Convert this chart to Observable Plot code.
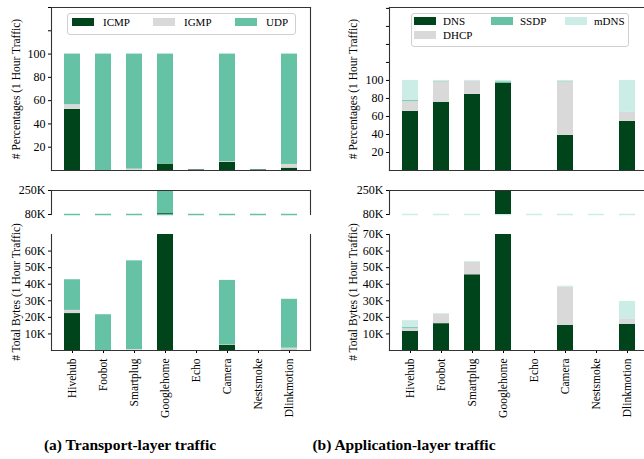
<!DOCTYPE html>
<html>
<head>
<meta charset="utf-8">
<script src="https://cdn.jsdelivr.net/npm/d3@7"></script>
<script src="https://cdn.jsdelivr.net/npm/@observablehq/plot@0.6"></script>
<style>
  body { margin: 0; background: #fff; }
  #fig { position: relative; width: 644px; height: 459px; overflow: hidden;
         font-family: "Liberation Serif", "Times New Roman", serif; color: #000; }
  #fig > svg, .sub { position: absolute; }
  .ytitle { position: absolute; font-size: 11.5px; white-space: nowrap;
            transform: translate(-50%, -50%) rotate(-90deg); }
  .legend { position: absolute; border: 1px solid #d0d0d0; border-radius: 3px; background: #fff; }
  .sw { position: absolute; width: 22px; height: 8px; }
  .lt { position: absolute; font-size: 11px; line-height: 12px; }
  .caption { position: absolute; font-weight: bold; font-size: 15.5px; white-space: nowrap;
             transform: translate(-50%, -50%); }
</style>
</head>
<body>
<div id="fig"></div>
<script>
const devices = ["Hivehub", "Foobot", "Smartplug", "Googlehome", "Echo", "Camera", "Nestsmoke", "Dlinkmotion"];

// (a) transport-layer protocols, stacked bottom to top
const transportProtocols = ["ICMP", "IGMP", "UDP"];
const transportColors = ["#00441b", "#d9d9d9", "#66c2a5"];
const transportPctICMP = [52.5, 0, 0, 5.5, 0.5, 7.1, 0.5, 2.0];
const transportPctIGMP = [4.1, 0, 1.2, 0, 0, 0.6, 0, 3.2];
const transportPctUDP  = [43.4, 100, 98.8, 94.5, 0, 92.3, 0, 94.8];
const transportBytesICMP = [22300, 0, 0, 86000, 0, 3200, 0, 200];
const transportBytesIGMP = [1900, 0, 600, 0, 0, 300, 0, 1200];
const transportBytesUDP  = [18500, 21600, 53500, 1470000, 0, 38800, 0, 29500];

// (b) application-layer protocols, stacked bottom to top
const appProtocols = ["DNS", "DHCP", "SSDP", "mDNS"];
const appColors = ["#00441b", "#d9d9d9", "#66c2a5", "#ccece6"];
const appPctDNS  = [65.6, 75.5, 84.5, 97.0, 0, 39.0, 0, 54.5];
const appPctDHCP = [11.0, 23.0, 14.5, 0, 0, 59.5, 0, 10.0];
const appPctSSDP = [1.0, 0.5, 0, 1.5, 0, 0.3, 0, 0];
const appPctMDNS = [22.4, 1.0, 1.0, 1.5, 0, 1.2, 0, 35.5];
const appBytesDNS  = [11600, 16200, 45700, 300000, 0, 15200, 0, 15800];
const appBytesDHCP = [1600, 5600, 7400, 0, 0, 22900, 0, 3000];
const appBytesSSDP = [600, 100, 0, 4600, 0, 100, 0, 0];
const appBytesMDNS = [4200, 300, 500, 4600, 0, 600, 0, 10800];

// axis ticks
const transportPctTicks = [20, 40, 60, 80, 100, 120, 140];
const appPctTicks = [20, 40, 60, 80, 100, 120, 140, 160, 180];
const pctLabelled = [20, 40, 60, 80, 100];
const breakTicks = [80000, 250000];
const transportByteTicks = [10000, 20000, 30000, 40000, 50000, 60000];
const appByteTicks = [10000, 20000, 30000, 40000, 50000, 60000, 70000];

function longTable(protocols, columns) {
  const rows = [];
  protocols.forEach((p, i) => devices.forEach((d, j) => rows.push({device: d, protocol: p, value: columns[i][j]})));
  return rows;
}

const fig = document.getElementById("fig");
const FONT = '"Liberation Serif", "Times New Roman", serif';
const kfmt = v => `${v / 1000}K`;

function sub({rows, protocols, colors, domain, ticks, tickFormat, left, top, marginTop, inner, marginBottom, spines, xAxis = false, breakMark = false}) {
  const svg = Plot.plot({
    width: 320, height: marginTop + inner + marginBottom,
    marginLeft: 51, marginRight: 10, marginTop, marginBottom,
    style: {fontFamily: FONT, fontSize: "12px", color: "#000", background: "transparent", overflow: "visible"},
    x: {domain: devices, paddingInner: 0.487, paddingOuter: 0.385, axis: null},
    y: {domain, axis: null},
    color: {domain: protocols, range: colors},
    marks: [
      breakMark ? Plot.tickY(devices, {x: d => d, y: () => domain[0], stroke: colors[colors.length - 1], strokeWidth: 1.5}) : null,
      Plot.barY(rows, {x: "device", y: "value", fill: "protocol", order: protocols, clip: true}),
      Plot.axisY({ticks, tickFormat, tickSize: 3, tickPadding: 3, label: null, fontSize: 12}),
      xAxis ? Plot.axisX({tickRotate: -90, tickSize: 3, tickPadding: 5, label: null, fontSize: 11.5}) : null,
      ...spines.map(side => Plot.frame({anchor: side, stroke: "#333", strokeWidth: 1.1}))
    ]
  });
  svg.style.left = left + "px";
  svg.style.top = top + "px";
  fig.appendChild(svg);
}

function panel({left, protocols, colors, pct, bytes, pctDomain, pctTicks, byteTicks}) {
  const pctRows = longTable(protocols, pct);
  const byteRows = longTable(protocols, bytes);
  // percentage share
  sub({rows: pctRows, protocols, colors, domain: pctDomain, ticks: pctTicks,
       tickFormat: v => pctLabelled.includes(v) ? String(v) : "",
       left, top: 0, marginTop: 7, inner: 163, marginBottom: 2, spines: ["top", "left", "right", "bottom"]});
  // upper part of the broken byte axis
  sub({rows: byteRows, protocols, colors, domain: [80000, 250000], ticks: breakTicks, tickFormat: kfmt,
       left, top: 185, marginTop: 5, inner: 24, marginBottom: 4, spines: ["top", "left", "right"], breakMark: true});
  // lower part of the byte axis
  sub({rows: byteRows, protocols, colors, domain: [0, 70000], ticks: byteTicks, tickFormat: kfmt,
       left, top: 228, marginTop: 6, inner: 116, marginBottom: 110, spines: ["left", "right", "bottom"], xAxis: true});
}

panel({left: 0, protocols: transportProtocols, colors: transportColors,
       pct: [transportPctICMP, transportPctIGMP, transportPctUDP],
       bytes: [transportBytesICMP, transportBytesIGMP, transportBytesUDP],
       pctDomain: [0, 140], pctTicks: transportPctTicks, byteTicks: transportByteTicks});

panel({left: 338, protocols: appProtocols, colors: appColors,
       pct: [appPctDNS, appPctDHCP, appPctSSDP, appPctMDNS],
       bytes: [appBytesDNS, appBytesDHCP, appBytesSSDP, appBytesMDNS],
       pctDomain: [0, 181], pctTicks: appPctTicks, byteTicks: appByteTicks});

function addDiv(cls, text, style) {
  const el = document.createElement("div");
  el.className = cls;
  if (text) el.textContent = text;
  Object.assign(el.style, style);
  fig.appendChild(el);
  return el;
}

// axis titles
addDiv("ytitle", "# Percentages (1 Hour Traffic)", {left: "16px", top: "89px"});
addDiv("ytitle", "# Total Bytes (1 Hour Traffic)", {left: "16px", top: "292px"});
addDiv("ytitle", "# Percentages (1 Hour Traffic)", {left: "353px", top: "89px"});
addDiv("ytitle", "# Total Bytes (1 Hour Traffic)", {left: "353px", top: "292px"});

// legends
addDiv("legend", "", {left: "67px", top: "13px", width: "227px", height: "20px"});
const transportLegend = [[72, 22], [153, 22], [235, 22]];
transportProtocols.forEach((p, i) => {
  const [x, y] = transportLegend[i];
  addDiv("sw", "", {left: x + "px", top: (y - 4) + "px", background: transportColors[i]});
  addDiv("lt", p, {left: (x + 31) + "px", top: (y - 6) + "px"});
});
addDiv("legend", "", {left: "411px", top: "13px", width: "216px", height: "32px"});
const appLegend = [[414, 21], [414, 35], [491, 21], [565, 21]];
appProtocols.forEach((p, i) => {
  const [x, y] = appLegend[i];
  addDiv("sw", "", {left: x + "px", top: (y - 4) + "px", background: appColors[i]});
  addDiv("lt", p, {left: (x + 29) + "px", top: (y - 6) + "px"});
});

// captions
addDiv("caption", "(a) Transport-layer traffic", {left: "130px", top: "445px"});
addDiv("caption", "(b) Application-layer traffic", {left: "404px", top: "445px"});
</script>
</body>
</html>
